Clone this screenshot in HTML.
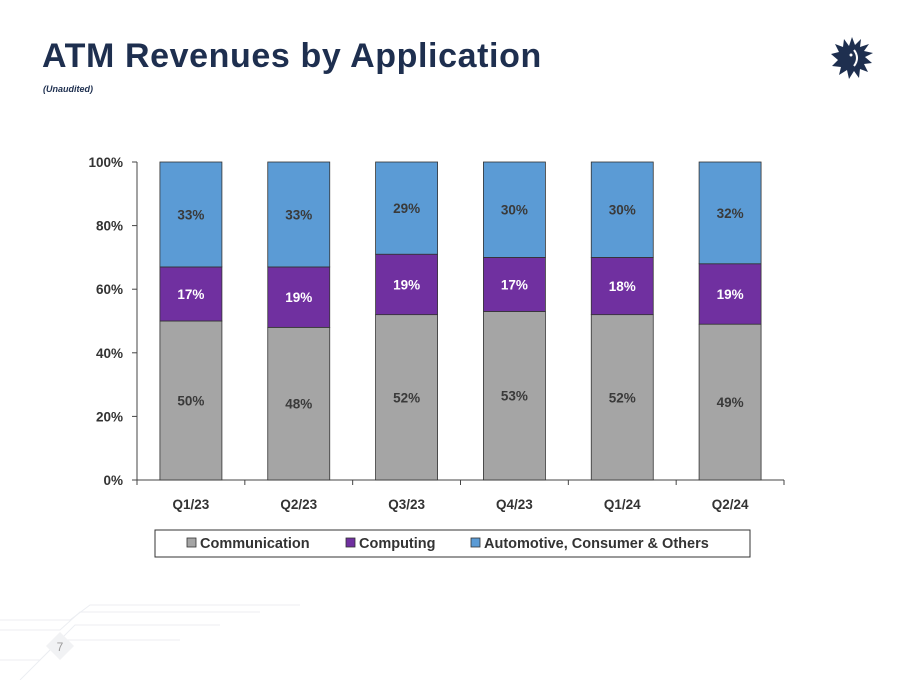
<!DOCTYPE html>
<html><head><meta charset="utf-8"><style>
body{margin:0;width:905px;height:680px;background:#fff;position:relative;overflow:hidden;font-family:"Liberation Sans",sans-serif}
#title{position:absolute;left:42px;top:37px;font-size:34px;font-weight:bold;color:#1e2f4f;letter-spacing:0.6px;margin:0}
#sub{position:absolute;left:43px;top:84px;font-size:9px;font-style:italic;font-weight:bold;color:#1e2f4f}
</style></head><body>
<h1 id="title">ATM Revenues by Application</h1>
<div id="sub">(Unaudited)</div>
<svg style="position:absolute;left:830px;top:36px" width="44" height="44" viewBox="0 0 44 44">
<polygon fill="#1e2f4f" points="22,1 25,9 31,3 30,11 39,8 34,15 43,17 35,21 42,27 34,28 38,36 30,33 29,42 24,35 19,43 17,34 9,39 11,31 2,30 8,24 1,18 9,16 5,8 13,11 14,3 19,10"/>
<path d="M24 14 q6 8 0 16" stroke="#fff" stroke-width="2" fill="none"/><circle cx="21" cy="19" r="1.5" fill="#fff"/>
</svg>
<svg style="position:absolute;left:0;top:600px" width="300" height="80">
<g stroke="#eceef2" fill="none" stroke-width="1"><path d="M0 20 H70 L90 5 H300"/><path d="M0 30 H60 L80 12 H260"/><path d="M0 60 H40 L75 25 H220"/><path d="M20 80 L60 40 H180"/></g>
<polygon points="60,32 74,46 60,60 46,46" fill="#f1f2f4"/>
<text x="60" y="51" font-size="12" fill="#9a9a9a" text-anchor="middle">7</text>
</svg>
<svg id="chart" style="position:absolute;left:0;top:0" width="905" height="680"></svg>
<script>
const categories=["Q1/23","Q2/23","Q3/23","Q4/23","Q1/24","Q2/24"];
const communication=[50,48,52,53,52,49];
const computing=[17,19,19,17,18,19];
const others=[33,33,29,30,30,32];
const yTicks=[0,20,40,60,80,100];
const seriesNames=["Communication","Computing","Automotive, Consumer & Others"];
const colors=["#a5a5a5","#7030a0","#5b9bd5"];
const textColors=["#3a3a3a","#ffffff","#3a3a3a"];
const svg=document.getElementById('chart');const NS="http://www.w3.org/2000/svg";
const X0=137,X1=784,Y0=480,Y1=162;
const band=(X1-X0)/categories.length;
const xC=i=>X0+band*(i+0.5);
const y=v=>Y0-(v/100)*(Y0-Y1);
function mk(t,a,p){const e=document.createElementNS(NS,t);for(const k in a)e.setAttribute(k,a[k]);(p||svg).appendChild(e);return e;}
const F='"Liberation Sans",sans-serif';
yTicks.forEach(t=>{const l=mk('line',{x1:X0-5,x2:X0,y1:y(t),y2:y(t),stroke:'#444'});

const tx=mk('text',{x:X0-14,y:y(t)+5,'font-size':13.5,'font-weight':'bold','text-anchor':'end',fill:'#333','font-family':F});tx.textContent=t+'%';
});
const ya=mk('line',{x1:X0,x2:X0,y1:Y1,y2:Y0,stroke:'#444'});
const xa=mk('line',{x1:X0,x2:X1,y1:Y0,y2:Y0,stroke:'#444'});
for(let i=0;i<=categories.length;i++){const l=mk('line',{x1:X0+band*i,x2:X0+band*i,y1:Y0,y2:Y0+5,stroke:'#444'});}
const series=[communication,computing,others];
const bw=62;
categories.forEach((c,i)=>{let base=0;
series.forEach((s,k)=>{const v=s[i];
const r=mk('rect',{x:xC(i)-bw/2,y:y(base+v),width:bw,height:y(base)-y(base+v),fill:colors[k],stroke:'#333','stroke-width':0.8});


const t=mk('text',{x:xC(i),y:(y(base)+y(base+v))/2+5,'font-size':13.5,'font-weight':'bold','text-anchor':'middle',fill:textColors[k],'font-family':F});t.textContent=v+'%';

base+=v;});
const t=mk('text',{x:xC(i),y:Y0+29,'font-size':13.5,'font-weight':'bold','text-anchor':'middle',fill:'#333','font-family':F});t.textContent=c;
});
const lg=mk('rect',{x:155,y:530,width:595,height:27,fill:'#fff',stroke:'#333'});

const lx=[187,346,471];
seriesNames.forEach((n,k)=>{const s=mk('rect',{x:lx[k],y:538,width:9,height:9,fill:colors[k],stroke:'#333','stroke-width':0.8});

const t=mk('text',{x:lx[k]+13,y:548,'font-size':14.5,'font-weight':'bold',fill:'#333','font-family':F});t.textContent=n;
});
</script>
</body></html>
